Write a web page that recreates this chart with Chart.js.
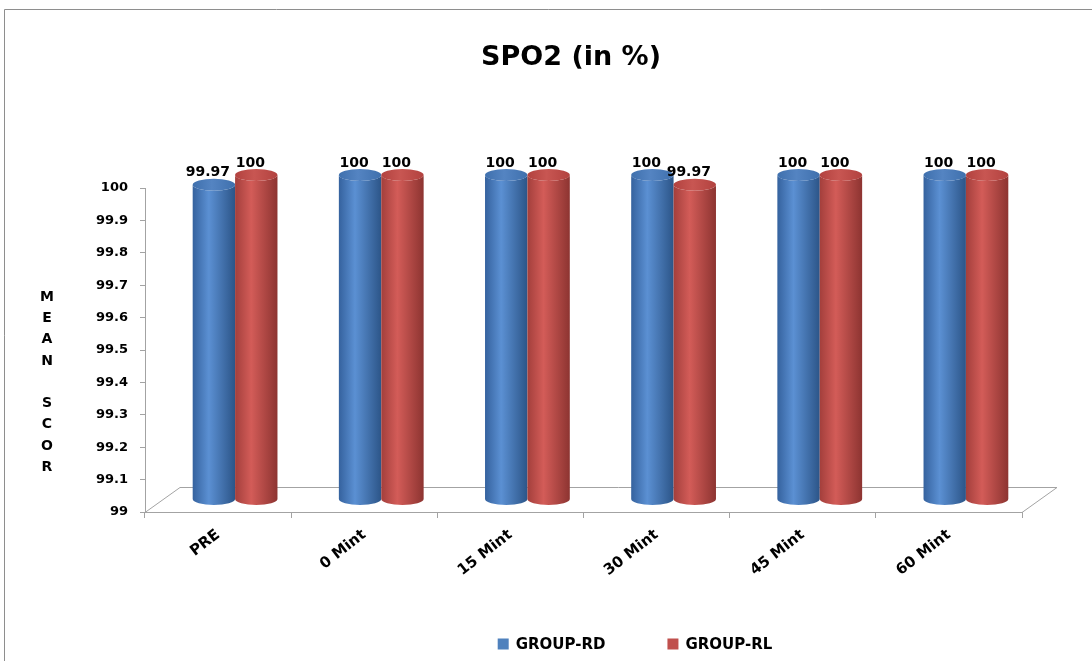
<!DOCTYPE html>
<html>
<head>
<meta charset="utf-8">
<script src="https://cdn.jsdelivr.net/npm/chart.js@4.4.1/dist/chart.umd.min.js"></script>
<style>
  html, body { margin: 0; padding: 0; background: #ffffff; }
  #wrap { width: 1092px; height: 661px; position: relative; }
</style>
</head>
<body>
<div id="wrap"><canvas id="chart" width="1092" height="661"></canvas></div>
<script>
// ---- data ----
const categories = ['PRE', '0 Mint', '15 Mint', '30 Mint', '45 Mint', '60 Mint'];
const groupRD = [99.97, 100, 100, 100, 100, 100];
const groupRL = [100, 100, 100, 99.97, 100, 100];
const seriesNames = ['GROUP-RD', 'GROUP-RL'];
const chartTitle = 'SPO2 (in %)';
const yAxisLetters = ['M', 'E', 'A', 'N', '', 'S', 'C', 'O', 'R'];

// ---- look ----
const FONT = "'DejaVu Sans', 'Liberation Sans', sans-serif";
const AXIS_GREY = '#a3a3a3';
const BAR_SHIFT = { dx: 17, dy: -13 };    // cylinders stand half-way into the floor
const FLOOR_SHIFT = { dx: 35, dy: -25 };  // back edge of the floor
const TOP_RY = 6;                          // vertical radius of the cylinder caps
const LABEL_SHIFT = { dx: -6, dy: 2 };     // value labels sit a touch left of the cap

const palette = [
  { edge: '#35629e', mid: '#5b90d3', side: '#2c5588', top: '#3f70ad', topHi: '#5484c2', key: '#4f81bd' },
  { edge: '#a33f3c', mid: '#d35c58', side: '#8d3431', top: '#b2423f', topHi: '#c85652', key: '#c0504d' }
];

function drawCylinder(ctx, cx, rx, yTop, yBot, ry, c) {
  const x0 = cx - rx, x1 = cx + rx;
  const body = ctx.createLinearGradient(x0, 0, x1, 0);
  body.addColorStop(0, c.edge);
  body.addColorStop(0.38, c.mid);
  body.addColorStop(1, c.side);
  ctx.beginPath();
  ctx.moveTo(x0, yTop);
  ctx.lineTo(x0, yBot);
  ctx.ellipse(cx, yBot, rx, ry, 0, Math.PI, 0, true);
  ctx.lineTo(x1, yTop);
  ctx.ellipse(cx, yTop, rx, ry, 0, 0, Math.PI, false);
  ctx.closePath();
  ctx.fillStyle = body;
  ctx.fill();

  const cap = ctx.createLinearGradient(x0, yTop, x1, yTop);
  cap.addColorStop(0, c.top);
  cap.addColorStop(0.45, c.topHi);
  cap.addColorStop(1, c.top);
  ctx.beginPath();
  ctx.ellipse(cx, yTop, rx, ry, 0, 0, Math.PI * 2);
  ctx.fillStyle = cap;
  ctx.fill();
}

const cylinderPlugin = {
  id: 'cylinders',
  afterLayout(chart) {
    // title sits right of the page centre, over the plot
    if (chart.titleBlock) { chart.titleBlock.left += 60; chart.titleBlock.right += 60; }
  },
  beforeDraw(chart) {
    const ctx = chart.ctx;
    ctx.save();
    ctx.strokeStyle = '#8e8e8e';
    ctx.lineWidth = 1;
    ctx.beginPath();
    ctx.moveTo(4.5, chart.height + 5);
    ctx.lineTo(4.5, 9.5);
    ctx.lineTo(chart.width + 5, 9.5);
    ctx.stroke();
    ctx.restore();
  },
  beforeDatasetsDraw() { return false; },
  afterDraw(chart) {
    const ctx = chart.ctx;
    const a = chart.chartArea;
    const yScale = chart.scales.y;
    const basePx = yScale.getPixelForValue(yScale.min);
    ctx.save();

    // floor outline
    ctx.strokeStyle = AXIS_GREY;
    ctx.lineWidth = 1;
    ctx.beginPath();
    ctx.moveTo(a.left, a.bottom + 0.5);
    ctx.lineTo(a.left + FLOOR_SHIFT.dx, a.bottom + FLOOR_SHIFT.dy + 0.5);
    ctx.lineTo(a.right + FLOOR_SHIFT.dx, a.bottom + FLOOR_SHIFT.dy + 0.5);
    ctx.lineTo(a.right, a.bottom + 0.5);
    ctx.stroke();

    // cylinders, category by category
    const metas = chart.data.datasets.map((d, i) => chart.getDatasetMeta(i));
    for (let i = 0; i < chart.data.labels.length; i++) {
      metas.forEach((meta, di) => {
        const el = meta.data[i];
        const cx = el.x + BAR_SHIFT.dx;
        const rx = el.width / 2;
        drawCylinder(ctx, cx, rx, el.y + BAR_SHIFT.dy, basePx + BAR_SHIFT.dy, TOP_RY, palette[di]);
      });
    }

    // value labels
    ctx.fillStyle = '#000';
    ctx.font = 'bold 14px ' + FONT;
    ctx.textAlign = 'center';
    ctx.textBaseline = 'bottom';
    metas.forEach((meta, di) => {
      const values = chart.data.datasets[di].data;
      meta.data.forEach((el, i) => {
        ctx.fillText(String(values[i]),
          el.x + BAR_SHIFT.dx + LABEL_SHIFT.dx,
          el.y + BAR_SHIFT.dy - TOP_RY - 1 + LABEL_SHIFT.dy);
      });
    });

    // stacked vertical axis title
    ctx.font = 'bold 14px ' + FONT;
    ctx.textBaseline = 'middle';
    yAxisLetters.forEach((ch, k) => ctx.fillText(ch, 47, 297 + k * 21.3));

    // legend
    ctx.font = 'bold 15px ' + FONT;
    ctx.textAlign = 'left';
    const box = 11, gapText = 7, gapItem = 62, legendY = 644, legendCx = 635;
    const widths = chart.data.datasets.map(d => box + gapText + ctx.measureText(d.label).width);
    const total = widths.reduce((s, w) => s + w, 0) + gapItem * (widths.length - 1);
    let x = legendCx - total / 2;
    chart.data.datasets.forEach((d, di) => {
      ctx.fillStyle = palette[di].key;
      ctx.fillRect(x, legendY - box / 2, box, box);
      ctx.fillStyle = '#000';
      ctx.fillText(d.label, x + box + gapText, legendY + 1);
      x += widths[di] + gapItem;
    });
    ctx.restore();
  }
};

new Chart(document.getElementById('chart'), {
  type: 'bar',
  data: {
    labels: categories,
    datasets: [
      { label: seriesNames[0], data: groupRD, backgroundColor: palette[0].key, categoryPercentage: 0.58, barPercentage: 1 },
      { label: seriesNames[1], data: groupRL, backgroundColor: palette[1].key, categoryPercentage: 0.58, barPercentage: 1 }
    ]
  },
  options: {
    responsive: false,
    animation: false,
    devicePixelRatio: 1,
    layout: { padding: { top: 0, right: 70, bottom: 49, left: 0 } },
    plugins: {
      legend: { display: false },
      tooltip: { enabled: false },
      title: {
        display: true,
        text: chartTitle,
        color: '#000',
        font: { family: FONT, size: 27, weight: 'bold', lineHeight: 1.2 },
        padding: { top: 42, bottom: 113.6 }
      }
    },
    scales: {
      x: {
        grid: { offset: true, drawOnChartArea: false, drawTicks: true, tickLength: 6, color: AXIS_GREY },
        border: { color: AXIS_GREY },
        ticks: {
          color: '#000',
          font: { family: FONT, size: 15, weight: 'bold' },
          minRotation: 38, maxRotation: 38, autoSkip: false, padding: 8
        },
        afterFit(scale) { scale.height = 100; }
      },
      y: {
        min: 99,
        max: 100,
        grid: { drawOnChartArea: false, drawTicks: true, tickLength: 5, color: AXIS_GREY },
        border: { color: AXIS_GREY },
        ticks: {
          stepSize: 0.1,
          color: '#000',
          padding: 12,
          font: { family: FONT, size: 13, weight: 'bold' },
          callback: v => String(Number(v.toFixed(1)))
        },
        afterFit(scale) { scale.width = 145; }
      }
    }
  },
  plugins: [cylinderPlugin]
});
</script>
</body>
</html>
